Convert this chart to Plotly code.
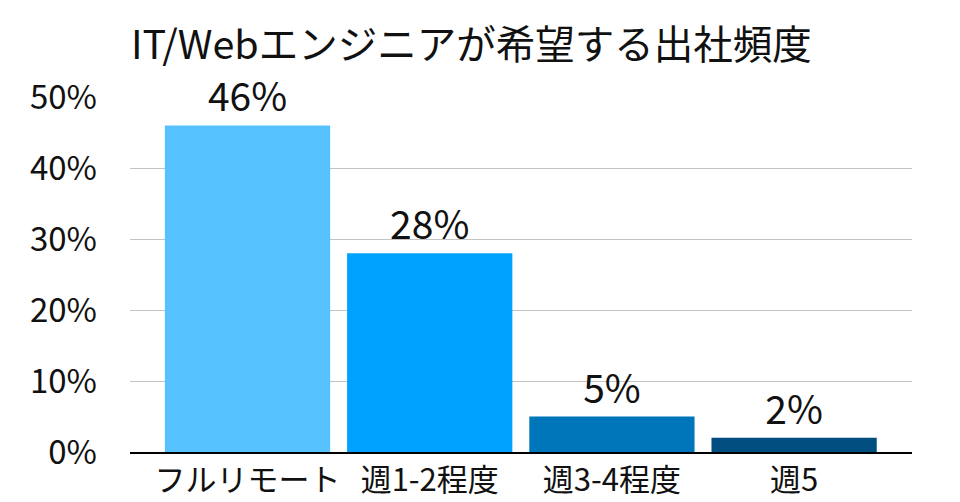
import plotly.graph_objects as go

categories = ["フルリモート", "週1-2程度", "週3-4程度", "週5"]
values = [46, 28, 5, 2]
bar_colors = ["#56C1FF", "#00A2FF", "#0076BA", "#004D80"]
y_ticks = [0, 10, 20, 30, 40, 50]
title_text = "IT/Webエンジニアが希望する出社頻度"

FONT = "Noto Sans CJK JP"

fig = go.Figure(
    go.Bar(
        x=list(range(len(categories))),
        y=values,
        marker=dict(color=bar_colors, line=dict(width=0)),
        text=[f"{v}%" for v in values],
        textposition="outside",
        textfont=dict(family=FONT, size=39, color="#111111"),
        cliponaxis=False,
        hoverinfo="skip",
    )
)

fig.update_layout(
    width=960,
    height=502,
    paper_bgcolor="white",
    plot_bgcolor="white",
    margin=dict(l=130, r=48, t=97, b=50, autoexpand=False),
    bargap=0.093,
    showlegend=False,
    font=dict(family=FONT, color="#111111"),
    title=dict(
        text=title_text,
        x=131 / 960,
        xanchor="left",
        xref="container",
        y=1 - 45 / 502,
        yanchor="middle",
        font=dict(family=FONT, size=39.5, color="#111111"),
    ),
    xaxis=dict(
        tickmode="array",
        tickvals=list(range(len(categories))),
        ticktext=categories,
        range=[-0.645, 3.647],
        showgrid=False,
        showline=True,
        linecolor="#000000",
        linewidth=2,
        ticks="",
        automargin=False,
        tickfont=dict(family=FONT, size=31, color="#111111"),
        zeroline=False,
    ),
    yaxis=dict(
        range=[0, 50],
        tickmode="array",
        tickvals=y_ticks,
        ticktext=[f"{t}%" for t in y_ticks],
        showgrid=True,
        gridcolor="#C4C4C4",
        gridwidth=1,
        zeroline=False,
        showline=False,
        ticks="",
        automargin=False,
        ticklabelstandoff=32,
        tickfont=dict(family=FONT, size=33, color="#111111"),
    ),
)

fig.write_html("out.html")
